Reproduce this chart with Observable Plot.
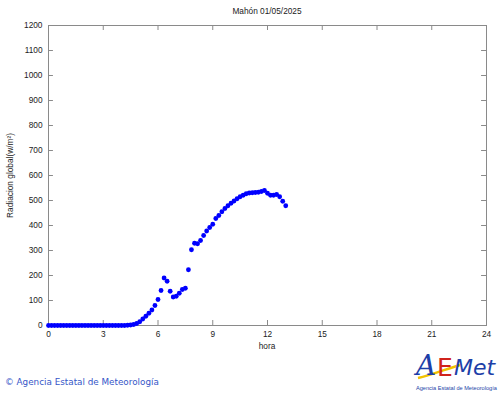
<!DOCTYPE html>
<html>
<head>
<meta charset="utf-8">
<script src="https://cdn.jsdelivr.net/npm/d3@7"></script>
<script src="https://cdn.jsdelivr.net/npm/@observablehq/plot@0.6"></script>
<style>
  html, body { margin: 0; padding: 0; background: #fff; }
  #wrap { position: relative; width: 500px; height: 395px; overflow: hidden; font-family: "Liberation Sans", Arial, sans-serif; }
  #chart { position: absolute; left: 0; top: 0; }
  .ov { position: absolute; white-space: nowrap; }
  #title { left: 0; width: 534px; top: 6px; text-align: center; font-size: 8.3px; color: #222; }
  #xlabel { left: 0; width: 534px; top: 341px; text-align: center; font-size: 8.3px; color: #222; }
  #caption { left: 5px; top: 377px; font-family: "DejaVu Sans", sans-serif; font-size: 8.8px; color: #3556c8; }
  #logo { left: 410px; top: 344px; }
</style>
</head>
<body>
<div id="wrap">
  <div id="chart"></div>
  <div class="ov" id="title">Mahón 01/05/2025</div>
  <div class="ov" id="xlabel">hora</div>
  <div class="ov" id="caption">© Agencia Estatal de Meteorología</div>
  <svg class="ov" id="logo" width="90" height="50" viewBox="0 0 90 50">
    <path d="M8 34 C 22 31, 36 25, 50 21" stroke="#f2c200" stroke-width="2.4" fill="none"/>
    <text x="6" y="31" font-family="DejaVu Serif, serif" font-style="italic" font-size="28" fill="#1d3fa8">A</text>
    <text x="27" y="32" font-family="DejaVu Sans, sans-serif" font-size="25" fill="#d0231c">E</text>
    <text x="44" y="31" font-family="DejaVu Sans, sans-serif" font-style="italic" font-size="22" fill="#1d3fa8">Met</text>
    <text x="6" y="46" font-family="Liberation Sans, Arial, sans-serif" font-size="5.6" fill="#1d3fa8">Agencia Estatal de Meteorología</text>
  </svg>
</div>
<script>
// Radiación global, 10-minute samples from 00:00 to 13:00 (W/m²)
const radiation = [
  0, 0, 0, 0, 0, 0, 0, 0, 0, 0, 0, 0, 0, 0, 0, 0, 0, 0,
  0, 0, 0, 0, 0, 0, 0, 0, 1, 2, 4, 8, 15, 26, 37, 49,
  62, 80, 104, 140, 190, 177, 137, 114, 117, 129, 144, 149,
  223, 303, 329, 327, 340, 360, 378, 392, 405, 428, 440, 455,
  468, 479, 489, 498, 507, 515, 521, 527, 530, 531, 532, 533,
  536, 540, 529, 521, 521, 524, 515, 497, 479
];
const samplesPerHour = 6;
const xTicks = [0, 3, 6, 9, 12, 15, 18, 21, 24];
const yTicks = [0, 100, 200, 300, 400, 500, 600, 700, 800, 900, 1000, 1100, 1200];
const yLabel = "Radiacion global(w/m²)";

const data = radiation.map((v, i) => ({hora: i / samplesPerHour, rad: v}));

const frameColor = "#8a8a8a";
const textColor = "#222";

const chart = Plot.plot({
  width: 500,
  height: 395,
  marginLeft: 48,
  marginRight: 14,
  marginTop: 25,
  marginBottom: 70,
  style: {fontFamily: "Liberation Sans, Arial, sans-serif", fontSize: "8.3px", background: "transparent"},
  x: {domain: [0, 24]},
  y: {domain: [0, 1200]},
  marks: [
    Plot.axisX({ticks: xTicks, tickSize: 0, tickPadding: 6, label: null, fill: textColor, tickFormat: d => String(d)}),
    Plot.axisY({ticks: yTicks, tickSize: 0, tickPadding: 6, label: null, fill: textColor, tickFormat: d => String(d)}),
    // inward ticks on all four sides
    Plot.ruleX(xTicks, {x: d => d, y1: 0, y2: 20, stroke: frameColor}),
    Plot.ruleX(xTicks, {x: d => d, y1: 1180, y2: 1200, stroke: frameColor}),
    Plot.ruleY(yTicks, {y: d => d, x1: 0, x2: 0.27, stroke: frameColor}),
    Plot.ruleY(yTicks, {y: d => d, x1: 23.73, x2: 24, stroke: frameColor}),
    Plot.frame({stroke: frameColor}),
    Plot.dot(data, {x: "hora", y: "rad", r: 2.4, fill: "#0000ff", stroke: "none"}),
    Plot.text([yLabel], {frameAnchor: "left", textAnchor: "middle", rotate: -90, dx: -38, fill: textColor, fontSize: 8.3})
  ]
});
document.getElementById("chart").appendChild(chart);
</script>
</body>
</html>
